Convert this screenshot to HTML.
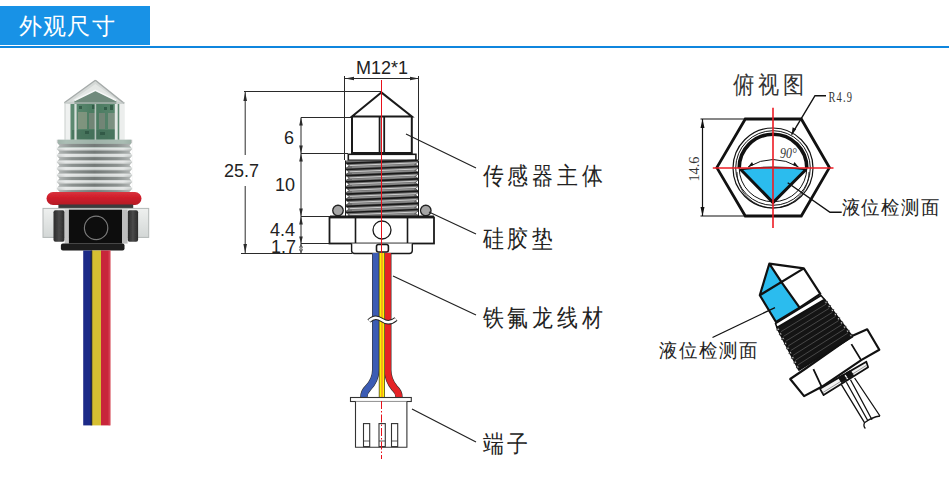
<!DOCTYPE html>
<html><head><meta charset="utf-8">
<style>
html,body{margin:0;padding:0;background:#fff;width:949px;height:485px;overflow:hidden}
body{font-family:"Liberation Sans",sans-serif;position:relative}
svg{position:absolute;left:0;top:0}
.t{font-family:"Liberation Sans",sans-serif}
</style></head><body>
<svg width="949" height="485" viewBox="0 0 949 485">
<!-- header -->
<rect x="0" y="6" width="150" height="39" fill="#1892e6"/>
<rect x="0" y="46" width="949" height="2" fill="#0f86de"/>
<text class="t" x="19" y="34" font-size="23" letter-spacing="1.2" fill="#fff">外观尺寸</text>

<!-- PHOTO -->
<g id="photo" filter="url(#soft)">
  <defs>
    <filter id="soft" x="-10%" y="-10%" width="120%" height="120%"><feGaussianBlur stdDeviation="0.45"/></filter>
    <linearGradient id="thr" x1="0" y1="0" x2="1" y2="0">
      <stop offset="0" stop-color="#c3c7c6"/><stop offset="0.12" stop-color="#e4e6e5"/>
      <stop offset="0.5" stop-color="#c4c9c7"/><stop offset="0.88" stop-color="#dfe2e1"/><stop offset="1" stop-color="#bdc2c0"/>
    </linearGradient>
    <linearGradient id="root" x1="0" y1="0" x2="1" y2="0">
      <stop offset="0" stop-color="#b5b9b8"/><stop offset="0.2" stop-color="#8c9290"/>
      <stop offset="0.5" stop-color="#737977"/><stop offset="0.8" stop-color="#8c9290"/><stop offset="1" stop-color="#b5b9b8"/>
    </linearGradient>
    <linearGradient id="ring" x1="0" y1="0" x2="0" y2="1">
      <stop offset="0" stop-color="#d8333f"/><stop offset="0.35" stop-color="#d2202c"/><stop offset="1" stop-color="#b51a26"/>
    </linearGradient>
    <linearGradient id="pcb" x1="0" y1="0" x2="1" y2="0">
      <stop offset="0" stop-color="#5d8b72"/><stop offset="0.5" stop-color="#4a7a60"/><stop offset="1" stop-color="#5b8870"/>
    </linearGradient>
    <linearGradient id="wing" x1="0" y1="0" x2="0" y2="1">
      <stop offset="0" stop-color="#eef0ef"/><stop offset="1" stop-color="#d3d7d6"/>
    </linearGradient>
    <linearGradient id="blk" x1="0" y1="0" x2="1" y2="0">
      <stop offset="0" stop-color="#2a2a2a"/><stop offset="0.5" stop-color="#4a4a4a"/><stop offset="1" stop-color="#2a2a2a"/>
    </linearGradient>
  </defs>
  <!-- prism body -->
  <rect x="64.3" y="102" width="60" height="38" fill="#d9dddb"/>
  <rect x="70.5" y="100" width="48.7" height="40" fill="url(#pcb)"/>
  <rect x="78" y="112" width="9" height="17" fill="#8d9a86" opacity="0.75"/>
  <rect x="89" y="113" width="6" height="16" fill="#7b877a" opacity="0.8"/>
  <rect x="99" y="113" width="6" height="16" fill="#7b877a" opacity="0.8"/>
  <rect x="108" y="113" width="7" height="16" fill="#8a968a" opacity="0.7"/>
  <rect x="72" y="130" width="45" height="9" fill="#3f6a55" opacity="0.6"/>
  <path d="M79 106h3v3h-3z M92 105h4v4h-4z M104 107h3v3h-3z M85 131h4v3h-4z M100 132h5v3h-5z M110 105h3v5h-3z" fill="#2c5441" opacity="0.8"/>
  <rect x="65.8" y="103" width="4.3" height="37" fill="#eff1f0"/>
  <rect x="74.4" y="103" width="2.2" height="37" fill="#d7dfdb"/>
  <rect x="94.6" y="100" width="1.6" height="40" fill="#b5c4bc"/>
  <rect x="114.8" y="103" width="2.9" height="37" fill="#e3e9e6"/>
  <rect x="119.9" y="103" width="4.5" height="37" fill="#eceeed"/>
  <!-- prism roof -->
  <path d="M95.4 80.3L64.3 102.7L70 104H120L124.2 103.4Z" fill="#d5d9d7"/>
  <path d="M95.4 84L72 100.5H118Z" fill="#e4e7e5"/>
  <path d="M95.4 90.4L74.4 100.5V104H116.3V100.5Z" fill="#6f8a7b"/>
  <path d="M95.4 80.3L64.3 102.7 M95.4 80.3L124.2 103.4" stroke="#a6abaa" stroke-width="1.4" fill="none"/>
  <path d="M74.4 100.5L95.4 90.4L116.3 100.5" stroke="#f6f7f7" stroke-width="1.6" fill="none"/>
  <path d="M64.3 103H124.3" stroke="#c0c6c3" stroke-width="1.2"/>
  <!-- thread -->
  <rect x="56.8" y="139.7" width="75.4" height="52.5" fill="url(#thr)"/>
  <rect x="58" y="139.7" width="73" height="8" fill="#86a394" opacity="0.6"/>
  <rect x="57" y="143.9" width="75" height="3.2" fill="url(#root)"/>
  <rect x="57" y="147.5" width="75" height="1.6" fill="#eef0ef" opacity="0.5"/>
  <rect x="57" y="150.5" width="75" height="3.2" fill="url(#root)"/>
  <rect x="57" y="154.1" width="75" height="1.6" fill="#eef0ef" opacity="0.5"/>
  <rect x="57" y="157.1" width="75" height="3.2" fill="url(#root)"/>
  <rect x="57" y="160.7" width="75" height="1.6" fill="#eef0ef" opacity="0.5"/>
  <rect x="57" y="163.7" width="75" height="3.2" fill="url(#root)"/>
  <rect x="57" y="167.3" width="75" height="1.6" fill="#eef0ef" opacity="0.5"/>
  <rect x="57" y="170.3" width="75" height="3.2" fill="url(#root)"/>
  <rect x="57" y="173.9" width="75" height="1.6" fill="#eef0ef" opacity="0.5"/>
  <rect x="57" y="176.9" width="75" height="3.2" fill="url(#root)"/>
  <rect x="57" y="180.5" width="75" height="1.6" fill="#eef0ef" opacity="0.5"/>
  <rect x="57" y="183.5" width="75" height="3.2" fill="url(#root)"/>
  <rect x="57" y="187.1" width="75" height="1.6" fill="#eef0ef" opacity="0.5"/>
  <rect x="57" y="190.1" width="75" height="3.2" fill="url(#root)"/>
  <rect x="57" y="193.7" width="75" height="1.6" fill="#eef0ef" opacity="0.5"/>
  <path d="M56.5 142.2L59.5 145.5L56.5 148.8Z M132.5 142.2L129.5 145.5L132.5 148.8Z M56.5 148.8L59.5 152.1L56.5 155.4Z M132.5 148.8L129.5 152.1L132.5 155.4Z M56.5 155.4L59.5 158.7L56.5 162.0Z M132.5 155.4L129.5 158.7L132.5 162.0Z M56.5 162.0L59.5 165.3L56.5 168.6Z M132.5 162.0L129.5 165.3L132.5 168.6Z M56.5 168.6L59.5 171.9L56.5 175.2Z M132.5 168.6L129.5 171.9L132.5 175.2Z M56.5 175.2L59.5 178.5L56.5 181.8Z M132.5 175.2L129.5 178.5L132.5 181.8Z M56.5 181.8L59.5 185.1L56.5 188.4Z M132.5 181.8L129.5 185.1L132.5 188.4Z M56.5 188.4L59.5 191.7L56.5 195.0Z M132.5 188.4L129.5 191.7L132.5 195.0Z" fill="#fff"/>
  <!-- red o-ring -->
  <rect x="46.5" y="192" width="95" height="13" rx="6.5" fill="url(#ring)"/>
  <!-- nut -->
  <rect x="58.4" y="204.5" width="74.8" height="6" fill="#3a3a3a"/>
  <rect x="43" y="208.4" width="105.7" height="29" fill="url(#wing)" stroke="#b3b8b7" stroke-width="1"/>
  <rect x="53.5" y="210.2" width="11.1" height="31.5" rx="2" fill="url(#blk)"/>
  <rect x="127.6" y="210.2" width="10.5" height="31.5" rx="2" fill="url(#blk)"/>
  <rect x="64.6" y="209.6" width="4.3" height="34" fill="#c4c4c4"/>
  <rect x="122" y="209.6" width="5.6" height="34" fill="#bdbdbd"/>
  <rect x="68.9" y="209.6" width="53.1" height="34" fill="#0b0b0b"/>
  <circle cx="96.1" cy="227.9" r="11.7" fill="none" stroke="#7a7a7a" stroke-width="1.2"/>
  <rect x="60.9" y="243.6" width="63.6" height="7" rx="2" fill="#1c1c1c"/>
  <!-- wires -->
  <rect x="83.2" y="250.5" width="8.7" height="174.9" fill="#1f2c88"/>
  <rect x="91.9" y="250.5" width="9.1" height="174.9" fill="#d6bf33"/>
  <rect x="101" y="250.5" width="9.4" height="174.9" fill="#c8263a"/>
  <rect x="90.6" y="250.5" width="1.8" height="174.9" fill="#111" opacity="0.55"/>
  <rect x="108.5" y="250.5" width="1.9" height="174.9" fill="#e05a6a" opacity="0.5"/>
</g>

<!-- MIDDLE DRAWING -->
<g id="mid" fill="none" stroke="#2a2a2a" stroke-width="1">
  <path d="M344.5 76V160 M418.5 76V160"/>
  <path d="M345 78.5H419" />
  <path d="M345 78.5l9 -1.8v3.6z M419 78.5l-9 -1.8v3.6z" fill="#2a2a2a" stroke="none"/>
  <path d="M244 91.5H381 M241 253.5H352 M301 117.5H352 M301 153.5H348 M301 216.5H330 M301 243.5H352"/>
  <path d="M245.2 92V155 M245.2 186V253"/>
  <path d="M245.2 92l-1.8 9h3.6z M245.2 253l-1.8 -9h3.6z" fill="#2a2a2a" stroke="none"/>
  <path d="M301 117.5V253"/>
  <path d="M301 117.5l-1.8 8h3.6z M301 153.5l-1.8 -8h3.6z M301 153.5l-1.8 8h3.6z M301 216.5l-1.8 -8h3.6z M301 216.5l-1.8 8h3.6z M301 243.5l-1.8 -7h3.6z M301 243.5l-1.8 7h3.6z M301 253.5l-1.8 -7h3.6z" fill="#2a2a2a" stroke="none"/>
</g>
<g id="part" fill="none" stroke="#1a1a1a">
  <!-- cap -->
  <path d="M381.3 92.4L352 116.5H411.8Z M352 116.5V153H411.8V116.5" stroke-width="2" fill="#fff" stroke-linejoin="miter"/>
  <path d="M379.6 117V153 M384.2 117V153" stroke-width="1.8"/>
  <!-- collar -->
  <rect x="348.3" y="154.3" width="67.6" height="6" stroke-width="1.6" fill="#fff"/>
  <!-- thread -->
  <rect x="345.5" y="160.5" width="73" height="56" fill="#707070" stroke="none"/>
  <path d="M346 163.3L418 160.3" stroke="#1a1a1a" stroke-width="1.7"/>
  <path d="M349 165.6L417 162.8" stroke="#d8d8d8" stroke-width="0.9"/>
  <path d="M352 167.2L414 164.6" stroke="#9a9a9a" stroke-width="0.8"/>
  <path d="M345.5 163.2l4 2.6l-4 2.6z" fill="#fff" stroke="#222" stroke-width="0.6"/>
  <path d="M418.5 161.4l-3 2.6l3 2.6z" fill="#fff" stroke="#222" stroke-width="0.6"/>
  <path d="M346 169.5L418 166.5" stroke="#1a1a1a" stroke-width="1.7"/>
  <path d="M349 171.8L417 169.0" stroke="#d8d8d8" stroke-width="0.9"/>
  <path d="M352 173.4L414 170.8" stroke="#9a9a9a" stroke-width="0.8"/>
  <path d="M345.5 169.4l4 2.6l-4 2.6z" fill="#fff" stroke="#222" stroke-width="0.6"/>
  <path d="M418.5 167.6l-3 2.6l3 2.6z" fill="#fff" stroke="#222" stroke-width="0.6"/>
  <path d="M346 175.6L418 172.6" stroke="#1a1a1a" stroke-width="1.7"/>
  <path d="M349 177.9L417 175.1" stroke="#d8d8d8" stroke-width="0.9"/>
  <path d="M352 179.5L414 176.9" stroke="#9a9a9a" stroke-width="0.8"/>
  <path d="M345.5 175.5l4 2.6l-4 2.6z" fill="#fff" stroke="#222" stroke-width="0.6"/>
  <path d="M418.5 173.7l-3 2.6l3 2.6z" fill="#fff" stroke="#222" stroke-width="0.6"/>
  <path d="M346 181.8L418 178.8" stroke="#1a1a1a" stroke-width="1.7"/>
  <path d="M349 184.1L417 181.2" stroke="#d8d8d8" stroke-width="0.9"/>
  <path d="M352 185.7L414 183.1" stroke="#9a9a9a" stroke-width="0.8"/>
  <path d="M345.5 181.7l4 2.6l-4 2.6z" fill="#fff" stroke="#222" stroke-width="0.6"/>
  <path d="M418.5 179.8l-3 2.6l3 2.6z" fill="#fff" stroke="#222" stroke-width="0.6"/>
  <path d="M346 187.9L418 184.9" stroke="#1a1a1a" stroke-width="1.7"/>
  <path d="M349 190.2L417 187.4" stroke="#d8d8d8" stroke-width="0.9"/>
  <path d="M352 191.8L414 189.2" stroke="#9a9a9a" stroke-width="0.8"/>
  <path d="M345.5 187.8l4 2.6l-4 2.6z" fill="#fff" stroke="#222" stroke-width="0.6"/>
  <path d="M418.5 186.0l-3 2.6l3 2.6z" fill="#fff" stroke="#222" stroke-width="0.6"/>
  <path d="M346 194.1L418 191.1" stroke="#1a1a1a" stroke-width="1.7"/>
  <path d="M349 196.4L417 193.6" stroke="#d8d8d8" stroke-width="0.9"/>
  <path d="M352 198.0L414 195.4" stroke="#9a9a9a" stroke-width="0.8"/>
  <path d="M345.5 194.0l4 2.6l-4 2.6z" fill="#fff" stroke="#222" stroke-width="0.6"/>
  <path d="M418.5 192.2l-3 2.6l3 2.6z" fill="#fff" stroke="#222" stroke-width="0.6"/>
  <path d="M346 200.2L418 197.2" stroke="#1a1a1a" stroke-width="1.7"/>
  <path d="M349 202.5L417 199.7" stroke="#d8d8d8" stroke-width="0.9"/>
  <path d="M352 204.1L414 201.5" stroke="#9a9a9a" stroke-width="0.8"/>
  <path d="M345.5 200.1l4 2.6l-4 2.6z" fill="#fff" stroke="#222" stroke-width="0.6"/>
  <path d="M418.5 198.3l-3 2.6l3 2.6z" fill="#fff" stroke="#222" stroke-width="0.6"/>
  <path d="M346 206.4L418 203.4" stroke="#1a1a1a" stroke-width="1.7"/>
  <path d="M349 208.7L417 205.9" stroke="#d8d8d8" stroke-width="0.9"/>
  <path d="M352 210.3L414 207.7" stroke="#9a9a9a" stroke-width="0.8"/>
  <path d="M345.5 206.3l4 2.6l-4 2.6z" fill="#fff" stroke="#222" stroke-width="0.6"/>
  <path d="M418.5 204.5l-3 2.6l3 2.6z" fill="#fff" stroke="#222" stroke-width="0.6"/>
  <path d="M346 212.5L418 209.5" stroke="#1a1a1a" stroke-width="1.7"/>
  <path d="M349 214.8L417 212.0" stroke="#d8d8d8" stroke-width="0.9"/>
  <path d="M352 216.4L414 213.8" stroke="#9a9a9a" stroke-width="0.8"/>
  <path d="M345.5 212.4l4 2.6l-4 2.6z" fill="#fff" stroke="#222" stroke-width="0.6"/>
  <path d="M418.5 210.6l-3 2.6l3 2.6z" fill="#fff" stroke="#222" stroke-width="0.6"/>
  <path d="M345.5 160.5V216.5 M418.5 160.5V216.5" stroke-width="1"/>
  <!-- o-rings -->
  <circle cx="338" cy="210.5" r="5.2" fill="#d0d0d0" stroke-width="1.4"/>
  <circle cx="425.8" cy="210.5" r="5.2" fill="#d0d0d0" stroke-width="1.4"/>
  <path d="M335 206v9 M337 205.5v10 M339 205.5v10 M341 206v9 M423 206v9 M425 205.5v10 M427 205.5v10 M429 206v9" stroke="#555" stroke-width="0.7"/>
  <!-- nut -->
  <path d="M330 216.8H434" stroke-width="2.4"/>
  <rect x="329.5" y="217.5" width="104.5" height="26" stroke-width="1.8" fill="#fff"/>
  <path d="M355.5 217.5V243.5 M407.5 217.5V243.5" stroke-width="1.6"/>
  <circle cx="382" cy="230" r="9" stroke-width="1.3"/>
  <!-- bottom plate -->
  <path d="M351.6 243.5V250.5Q351.6 253.5 354.6 253.5H409.3Q412.3 253.5 412.3 250.5V243.5" stroke-width="1.4" fill="#fff"/>
  <rect x="376.5" y="244.5" width="11.9" height="7.5" rx="2" stroke-width="1.6" fill="#fff"/>
</g>
<g id="wires">
  <path d="M375.7 253V370Q375.7 380 368 388Q363.9 392 363.9 397" stroke="#333" stroke-width="7.4" fill="none"/>
  <path d="M375.7 253V370Q375.7 380 368 388Q363.9 392 363.9 397" stroke="#3c5cb4" stroke-width="6.2" fill="none"/>
  <path d="M387.8 253V370Q387.8 380 394.5 388Q399 392 399 397" stroke="#333" stroke-width="7.4" fill="none"/>
  <path d="M387.8 253V370Q387.8 380 394.5 388Q399 392 399 397" stroke="#e52326" stroke-width="6.2" fill="none"/>
  <rect x="378.8" y="253" width="6.2" height="144.5" fill="#333"/>
  <rect x="379.5" y="253" width="4.8" height="144.5" fill="#fff200"/>
  <rect x="381.5" y="253" width="1" height="144.5" fill="#f07030"/>
  <path d="M369 321Q375 315 382 320T396 319" stroke="#222" stroke-width="4.5" fill="none"/>
  <path d="M369 321Q375 315 382 320T396 319" stroke="#fff" stroke-width="2.6" fill="none"/>
  <!-- connector -->
  <rect x="350.5" y="397.5" width="60.8" height="4" fill="#fff" stroke="#333" stroke-width="1.1"/>
  <path d="M355.5 401.5V447.3H406.9V401.5" fill="#fff" stroke="#333" stroke-width="1.1"/>
  <rect x="363.5" y="423.6" width="6.2" height="23" fill="#fff" stroke="#333" stroke-width="1.1"/>
  <rect x="379" y="423.6" width="6.3" height="23" fill="#fff" stroke="#333" stroke-width="1.1"/>
  <rect x="391.5" y="423.6" width="6.2" height="23" fill="#fff" stroke="#333" stroke-width="1.1"/>
  <path d="M363.5 441H369.7 M379 441H385.3 M391.5 441H397.7" stroke="#333" stroke-width="0.8"/>
</g>
<path d="M381.5 80V253" stroke="#e8101a" stroke-width="1"/>
<path d="M381.5 401V459" stroke="#e8101a" stroke-width="1" stroke-dasharray="8 2 1.5 2"/>
<text class="t" x="356" y="74" font-size="18" fill="#222">M12*1</text>
<text class="t" x="224" y="177" font-size="18" fill="#222">25.7</text>
<text class="t" x="284" y="144" font-size="18" fill="#222">6</text>
<text class="t" x="275" y="191" font-size="18" fill="#222">10</text>
<text class="t" x="270" y="236" font-size="18" fill="#222">4.4</text>
<text class="t" x="271" y="253" font-size="18" fill="#222">1.7</text>

<!-- labels -->
<g stroke="#222" stroke-width="1.2" fill="none">
  <path d="M406 134L476 168 M429 212L476 234 M393 276L476 315 M412 409L476 442"/>
</g>
<text class="t" x="0" y="0" font-size="23.5" letter-spacing="4.9" fill="#222" transform="translate(482.8 184.3) scale(0.87 1)">传感器主体</text>
<text class="t" x="0" y="0" font-size="23.5" letter-spacing="4.9" fill="#222" transform="translate(482.8 247.3) scale(0.87 1)">硅胶垫</text>
<text class="t" x="0" y="0" font-size="23.5" letter-spacing="4.9" fill="#222" transform="translate(482.8 326) scale(0.87 1)">铁氟龙线材</text>
<text class="t" x="0" y="0" font-size="23.5" letter-spacing="4.9" fill="#222" transform="translate(482.8 452.3) scale(0.87 1)">端子</text>

<!-- TOP VIEW -->
<g id="top" fill="none" stroke="#111">
  <!-- 14.6 dimension -->
  <path d="M700.5 119H746 M700.5 216H746 M702.5 119V216" stroke-width="1.2"/>
  <path d="M702.5 119l-2 9h4z M702.5 216l-2 -9h4z" fill="#111" stroke="none"/>
  <!-- hex -->
  <path d="M716.8 167.6L745.3 119H801.3L829.4 167.6L801.3 216H745.3Z" stroke-width="2.8" stroke-linejoin="miter"/>
  <!-- circles -->
  <circle cx="773" cy="168" r="40" stroke-width="1.2"/>
  <circle cx="773" cy="168" r="37.3" stroke-width="1"/>
  <path d="M739.2 168A33.8 33.8 0 0 1 806.8 168" stroke-width="3.6"/>
  <path d="M739.2 168A33.8 33.8 0 0 0 806.8 168" stroke-width="1"/>
  <path d="M737 172A36 36 0 0 0 809 172" stroke-width="0.8"/>
  <!-- blue triangle -->
  <path d="M740.7 169.5Q773 165 806 169.5L773 202.5Z" fill="#2bbcee" stroke-width="1.4"/>
  <path d="M740.7 169.5L773 202.5L806 169.5" stroke-width="3" stroke-linejoin="miter"/>
  <!-- 90 arc -->
  <path d="M748 167Q773 152 798.5 167" stroke-width="1"/>
  <path d="M748 167l4 -5l1.5 3z M798.5 167l-4 -5l-1.5 3z" fill="#111" stroke="none"/>
  <!-- R4.9 leader -->
  <path d="M791.6 134.7L815 95.7H826" stroke-width="1.4"/>
  <path d="M791.6 134.7l1 -7.5l3.5 2z" fill="#111" stroke="none"/>
  <!-- liquid leader -->
  <path d="M787.7 182.7L830 212.2H841.7" stroke-width="1.4"/>
</g>
<path d="M773 107.7V228 M712.8 168H833.5" stroke="#ee1c25" stroke-width="1.6"/>
<text font-family="Liberation Serif" x="0" y="0" fill="#333" transform="translate(828.5 102) scale(0.7 1)" font-size="15" letter-spacing="1.6">R4.9</text>
<text font-family="Liberation Serif" x="0" y="0" font-size="15" fill="#333" transform="translate(699 181.5) rotate(-90) scale(0.95 1)">14.6</text>
<text font-family="Liberation Serif" font-style="italic" x="0" y="0" font-size="14" fill="#333" transform="translate(780 158) scale(0.85 1)">90°</text>
<text class="t" x="0" y="0" font-size="19.5" letter-spacing="1.2" fill="#222" transform="translate(841.5 213.5) scale(0.97 1)">液位检测面</text>
<text class="t" x="0" y="0" font-size="24" letter-spacing="4.2" fill="#333" transform="translate(732.5 92.6) scale(0.88 1)">俯视图</text>

<!-- 3D VIEW -->
<g id="iso" stroke="#111" fill="#fff" stroke-linejoin="round">
  <!-- wires -->
  <path d="M841.4 384.7L864.5 422.7 M846.4 382.3L868 421 M850.5 379.8L872 419.8 M854.6 378L880 416" stroke-width="1.3" fill="none"/>
  <path d="M864.5 422.7Q872 417 880 416 M864.5 422.7Q863 426 865.4 428.5" stroke-width="1.3" fill="none"/>
  <!-- nut -->
  <path d="M790.2 379L805 369L852 336L867.2 329.3L879.3 349.7L861.6 359.9L821.7 386.8L804.1 396.1Z" stroke-width="2.2"/>
  <path d="M813.4 369.2L821.7 386.8 M851.4 344.1L861 359.9" stroke-width="1.8" fill="none"/>
  <!-- lower plate -->
  <path d="M819.9 388.6L823.6 395.1L868.1 367.3L866.3 361.7Z" stroke-width="1.8" fill="#f2f2f2"/>
  <path d="M823 392.5L867 365" stroke="#999" stroke-width="1" fill="none"/>
  <path d="M838.5 377.5l5 -3l3 5l-5 3z M845.5 373.5l5 -3l3 5l-5 3z" fill="#111" stroke-width="1"/>
  <!-- thread -->
  <path d="M777 327.5L824.5 299.5L852.4 336.7L799 370Z" fill="#141414" stroke-width="1.8"/>
  <path d="M776.7 330.1l1.5 -2.5l1.5 2.5z M827.5 301.4l-1.5 2.5l-1.5 -2.5z M779.2 334.8l1.5 -2.5l1.5 2.5z M830.6 305.5l-1.5 2.5l-1.5 -2.5z M781.6 339.5l1.5 -2.5l1.5 2.5z M833.8 309.6l-1.5 2.5l-1.5 -2.5z M784.1 344.2l1.5 -2.5l1.5 2.5z M836.9 313.8l-1.5 2.5l-1.5 -2.5z M786.5 348.9l1.5 -2.5l1.5 2.5z M840.0 317.9l-1.5 2.5l-1.5 -2.5z M788.9 353.7l1.5 -2.5l1.5 2.5z M843.0 322.0l-1.5 2.5l-1.5 -2.5z M791.4 358.4l1.5 -2.5l1.5 2.5z M846.1 326.2l-1.5 2.5l-1.5 -2.5z M793.8 363.1l1.5 -2.5l1.5 2.5z M849.2 330.3l-1.5 2.5l-1.5 -2.5z M796.3 367.8l1.5 -2.5l1.5 2.5z M852.4 334.4l-1.5 2.5l-1.5 -2.5z" fill="#fff" stroke-width="0.8"/>
  <path d="M780.9 331.7L826.1 304.1 M783.4 336.4L829.2 308.3 M785.8 341.2L832.3 312.4 M788.3 345.9L835.4 316.5 M790.7 350.6L838.5 320.7 M793.2 355.3L841.6 324.8 M795.6 360.1L844.7 328.9 M798.1 364.8L847.8 333.1" stroke="#6a6a6a" stroke-width="0.6" fill="none"/>
  <!-- collar -->
  <path d="M775.5 323.5L821 295.5L824.5 299.5L777 327.5Z" fill="#fff" stroke-width="1.6"/>
  <!-- prism -->
  <path d="M769.3 263.7L803.8 268.4L820.3 293.8L799.6 307.6L776 322L759.8 295.2Z" fill="#fff" stroke="none"/>
  <path d="M769.3 263.7L759.8 295.2L776 322L799.6 307.6L782 282.8Z" fill="#2bbcee" stroke="none"/>
  <path d="M769.3 263.7L803.8 268.4L820.3 293.8L799.6 307.6L776 322L759.8 295.2Z M759.8 295.2L803.8 268.4 M769.3 263.7L782 282.8L799.6 307.6" fill="none" stroke-width="2.2"/>
  <!-- leader -->
  <path d="M712.5 337.5L775 307.6" stroke-width="1.3" fill="none"/>
</g>
<text class="t" x="0" y="0" font-size="19.5" letter-spacing="1.2" fill="#222" transform="translate(659.3 357) scale(0.97 1)">液位检测面</text>
</svg>
</body></html>
